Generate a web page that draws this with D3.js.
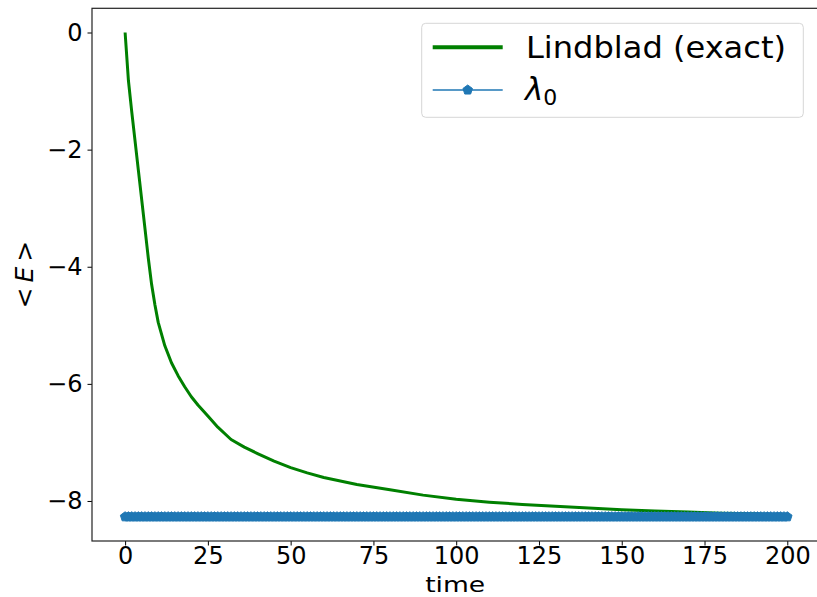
<!DOCTYPE html>
<html>
<head>
<meta charset="utf-8">
<script src="https://cdn.jsdelivr.net/npm/d3@7"></script>
<style>
  html, body { margin: 0; padding: 0; background: #fff; }
  svg { display: block; }
  text { font-family: "DejaVu Sans", sans-serif; fill: #000; }
</style>
</head>
<body>
<svg id="chart" width="817" height="597"></svg>
<script>
// ---- data ----
const lindbladTime = [0,1,2,3,4,5,6,7,8,9,10,12,14,16,18,20,22,25,28,32,36,40,45,50,55,60,70,80,90,100,110,120,130,140,150,160,170,180,190,200];
const lindbladEnergy = [0,-0.82,-1.35,-1.85,-2.35,-2.85,-3.35,-3.85,-4.3,-4.65,-4.95,-5.35,-5.64,-5.86,-6.05,-6.22,-6.36,-6.55,-6.74,-6.95,-7.08,-7.19,-7.32,-7.43,-7.52,-7.6,-7.72,-7.81,-7.9,-7.97,-8.02,-8.06,-8.09,-8.12,-8.15,-8.17,-8.19,-8.21,-8.22,-8.24];
const lambda0Level = -8.27;                 // constant level
const lambda0Time = d3.range(0, 201, 1);    // sampling grid of the λ0 series
const lambda0Energy = lambda0Time.map(() => lambda0Level);
const xTicks = [0,25,50,75,100,125,150,175,200];
const yTicks = [0,-2,-4,-6,-8];
const xDomain = [-10, 210];
const yDomain = [-8.6835, 0.4135];

// ---- layout ----
const svg = d3.select("#chart");
const L = 92, R = 820.4, T = 8.3, B = 541;
const x = d3.scaleLinear().domain(xDomain).range([L, R]);
const y = d3.scaleLinear().domain(yDomain).range([B, T]);
const green = "#008000", blue = "#1f77b4";
const fmt = v => (v < 0 ? "\u2212" + Math.abs(v) : String(v));

svg.append("defs").append("clipPath").attr("id", "clip")
  .append("rect").attr("x", L).attr("y", T).attr("width", R - L).attr("height", B - T);
const plot = svg.append("g").attr("clip-path", "url(#clip)");

// Lindblad curve
const lindblad = lindbladTime.map((t, i) => [t, lindbladEnergy[i]]);
plot.append("path").datum(lindblad)
  .attr("fill", "none").attr("stroke", green).attr("stroke-width", 3)
  .attr("stroke-linejoin", "round")
  .attr("d", d3.line().x(d => x(d[0])).y(d => y(d[1])));

// λ0 series
function pentagon(r) {
  const pts = d3.range(5).map(k => {
    const a = -Math.PI / 2 + k * 2 * Math.PI / 5;
    return [r * Math.cos(a), r * Math.sin(a)];
  });
  return "M" + pts.map(p => p.join(",")).join("L") + "Z";
}
const lam = lambda0Time.map((t, i) => [t, lambda0Energy[i]]);
plot.append("path").datum(lam)
  .attr("fill", "none").attr("stroke", blue).attr("stroke-width", 1.5)
  .attr("d", d3.line().x(d => x(d[0])).y(d => y(d[1])));
plot.append("g").selectAll("path").data(lam).join("path")
  .attr("transform", d => `translate(${x(d[0])},${y(d[1])})`)
  .attr("d", pentagon(5))
  .attr("fill", blue).attr("stroke", blue).attr("stroke-width", 1);

// axes
const xAxis = d3.axisBottom(x).tickValues(xTicks).tickSize(4.5).tickPadding(0).tickFormat(fmt);
const gx = svg.append("g").attr("transform", `translate(0,${B})`).call(xAxis);
const yAxis = d3.axisLeft(y).tickValues(yTicks).tickSize(4.5).tickPadding(5).tickFormat(fmt);
const gy = svg.append("g").attr("transform", `translate(${L},0)`).call(yAxis);
[gx, gy].forEach(g => {
  g.select(".domain").remove();
  g.selectAll(".tick line").attr("stroke", "#000").attr("stroke-width", 1);
  g.selectAll(".tick text").attr("font-family", "DejaVu Sans").attr("font-size", 24).attr("fill", "#000");
});
gx.selectAll(".tick text").attr("dy", "0.76em");

// spines
svg.append("rect").attr("x", L).attr("y", T).attr("width", R - L).attr("height", B - T)
  .attr("fill", "none").attr("stroke", "#222").attr("stroke-width", 1.2);

// axis labels
svg.append("text").attr("x", (L + R) / 2 - 1).attr("y", 591.5).attr("text-anchor", "middle")
  .attr("font-size", 22).attr("textLength", 60).attr("lengthAdjust", "spacingAndGlyphs").text("time");
const yl = svg.append("text")
  .attr("transform", `translate(33,${(T + B) / 2}) rotate(-90)`)
  .attr("text-anchor", "middle").attr("font-size", 25);
yl.append("tspan").text("<\u2009");
yl.append("tspan").attr("font-style", "italic").text("E");
yl.append("tspan").text("\u2009>");

// legend
const lg = svg.append("g");
lg.append("rect").attr("x", 421.7).attr("y", 23.3).attr("width", 381.6).attr("height", 94)
  .attr("rx", 4).attr("fill", "#fff").attr("fill-opacity", 0.8)
  .attr("stroke", "#d6d6d6").attr("stroke-width", 1);
lg.append("line").attr("x1", 432.7).attr("x2", 502.7).attr("y1", 47.3).attr("y2", 47.3)
  .attr("stroke", green).attr("stroke-width", 4);
lg.append("text").attr("x", 526).attr("y", 57.5).attr("font-size", 30)
  .attr("textLength", 260).attr("lengthAdjust", "spacingAndGlyphs").text("Lindblad (exact)");
lg.append("line").attr("x1", 432.7).attr("x2", 502.7).attr("y1", 90).attr("y2", 90)
  .attr("stroke", blue).attr("stroke-width", 1.5);
lg.append("path").attr("transform", "translate(467.7,90)").attr("d", pentagon(5))
  .attr("fill", blue).attr("stroke", blue).attr("stroke-width", 1);
const lt = lg.append("text").attr("x", 525).attr("y", 100).attr("font-size", 31);
lt.append("tspan").attr("font-style", "italic").text("\u03bb");
lt.append("tspan").attr("font-size", 22).attr("dy", 5).text("0");
</script>
</body>
</html>
